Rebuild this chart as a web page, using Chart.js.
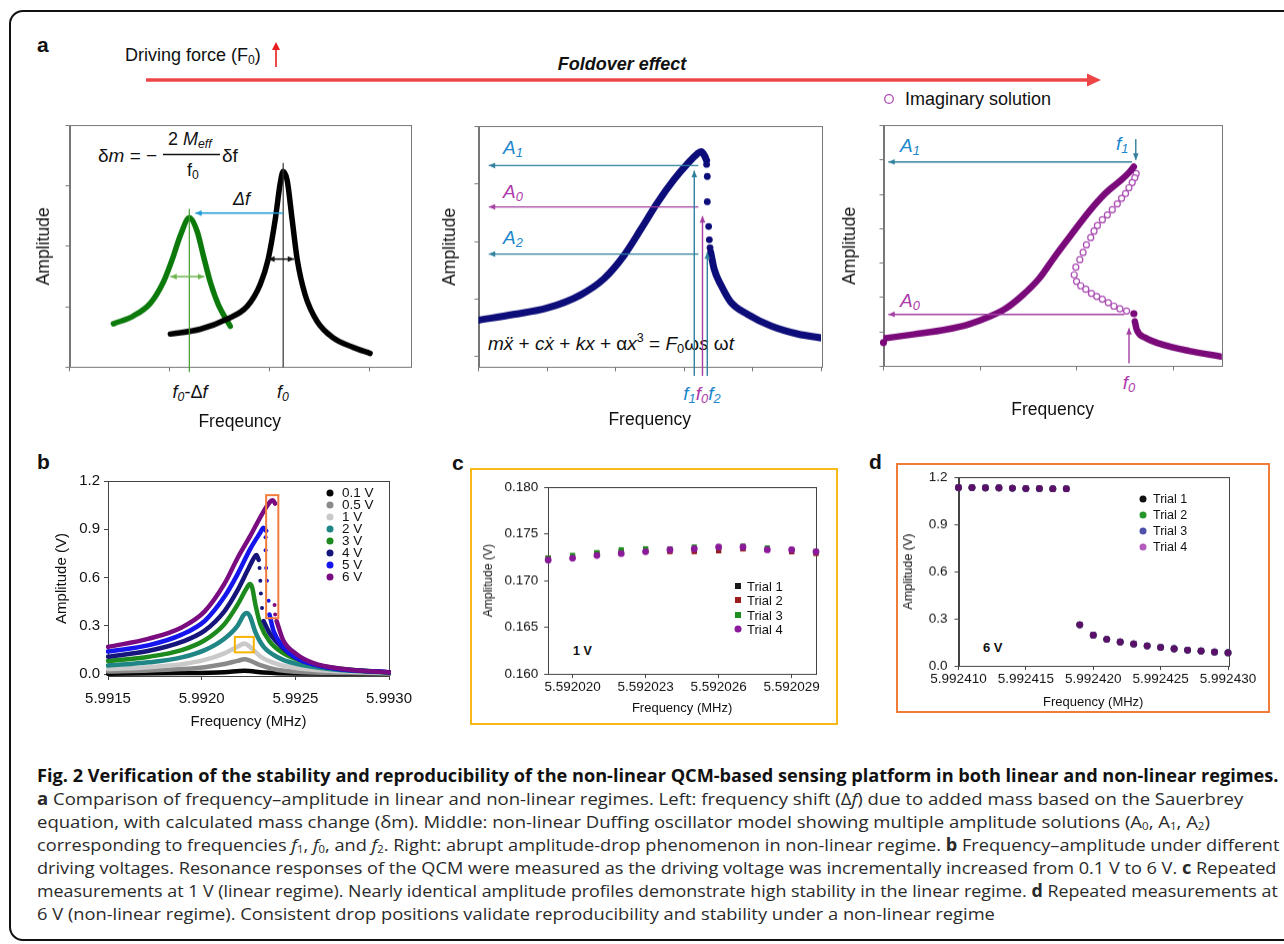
<!DOCTYPE html>
<html>
<head>
<meta charset="utf-8">
<title>Fig. 2 QCM foldover</title>
<script src="https://cdn.jsdelivr.net/npm/chart.js@4.4.1/dist/chart.umd.min.js"></script>
<style>
  html, body { margin: 0; padding: 0; background: #fff; }
  #page { position: relative; width: 1284px; height: 944px; overflow: hidden;
          font-family: "Liberation Sans", Arial, Helvetica, sans-serif; color: #111; }
  #frame { position: absolute; left: 9px; top: 10px; width: 1300px; height: 931px;
           border: 2px solid #111; border-radius: 14px; box-sizing: border-box; }
  #deco { position: absolute; left: 0; top: 0; }
  canvas { position: absolute; }
  .t { position: absolute; white-space: nowrap; line-height: 1; transform: translateY(-50%); }
  .t.c { transform: translate(-50%, -50%); }
  .t sub { font-size: 68%; vertical-align: -0.28em; line-height: 0; }
  .t sup { font-size: 66%; vertical-align: 0.6em; line-height: 0; }
  .pl { font-weight: bold; font-size: 21px; }
  .blue { color: #1d87cc; }
  .mag { color: #ad3aa9; }
  .lg { position: absolute; white-space: nowrap; line-height: 1; transform: translateY(-50%); }
  .mk { position: absolute; transform: translate(-50%, -50%); }
  .cap { position: absolute; left: 37px; white-space: nowrap; line-height: 1;
         font-family: "Open Sans", "Noto Sans", sans-serif; font-size: 17px; color: #2a2a2a;
         transform-origin: 0 50%; }
  .cap sub { font-size: 62%; vertical-align: -0.25em; line-height: 0; }
</style>
</head>
<body>
<div id="page">
  <div id="frame"></div>
  <svg id="deco" width="1284" height="944">
    <line x1="146" y1="80" x2="1090" y2="80" stroke="#ee4646" stroke-width="3.5"/>
    <polygon points="1087,73.5 1101,80 1087,86.5" fill="#ee4646"/>
    <line x1="276" y1="67" x2="276" y2="48" stroke="#e81e1e" stroke-width="1.6"/>
    <polygon points="272,50 276,42 280,50" fill="#e81e1e"/>
    <circle cx="889" cy="99" r="4.3" fill="none" stroke="#b04ab4" stroke-width="1.3"/>
    <line x1="163" y1="154.5" x2="220" y2="154.5" stroke="#111" stroke-width="1.6"/>
    <rect x="471" y="469" width="366" height="255" fill="none" stroke="#f6b917" stroke-width="2"/>
    <rect x="897" y="464" width="372" height="248" fill="none" stroke="#f07c3a" stroke-width="2"/>
  </svg>

  <!-- panel a, top -->
  <div class="t pl" style="left:37px;top:44px;">a</div>
  <div class="t" style="left:125px;top:55px;font-size:18px;">Driving force (F<sub>0</sub>)</div>
  <div class="t c" style="left:622px;top:64px;font-size:18px;font-weight:bold;font-style:italic;">Foldover effect</div>
  <div class="t" style="left:905px;top:99px;font-size:18px;">Imaginary solution</div>

  <!-- panel a, left -->
  <div class="t" style="left:98px;top:155px;font-size:19px;">δ<i>m</i> = −</div>
  <div class="t" style="left:168px;top:139px;font-size:18px;">2 <i>M</i><sub><i>eff</i></sub></div>
  <div class="t" style="left:187px;top:170px;font-size:18px;">f<sub>0</sub></div>
  <div class="t" style="left:222px;top:155px;font-size:19px;">δf</div>
  <div class="t" style="left:233px;top:199px;font-size:18px;font-style:italic;">Δf</div>
  <div class="t c" style="left:190px;top:392px;font-size:18px;"><i>f</i><sub><i>0</i></sub>-Δ<i>f</i></div>
  <div class="t c" style="left:283px;top:392px;font-size:18px;"><i>f</i><sub><i>0</i></sub></div>

  <!-- panel a, middle -->
  <div class="t blue" style="left:503px;top:147px;font-size:19px;font-style:italic;">A<sub>1</sub></div>
  <div class="t mag" style="left:503px;top:191px;font-size:19px;font-style:italic;">A<sub>0</sub></div>
  <div class="t blue" style="left:503px;top:237px;font-size:19px;font-style:italic;">A<sub>2</sub></div>
  <div class="t" style="left:488px;top:343px;font-size:19px;"><i>m</i><i>x&#776;</i> + <i>cx&#775;</i> + <i>kx</i> + α<i>x</i><sup>3</sup> = <i>F</i><sub>0</sub>ω<i>s</i> ω<i>t</i></div>
  <div class="t c" style="left:702px;top:393px;font-size:19px;font-style:italic;"><span class="blue">f<sub>1</sub></span><span class="mag">f<sub>0</sub></span><span class="blue">f<sub>2</sub></span></div>

  <!-- panel a, right -->
  <div class="t blue" style="left:900px;top:145px;font-size:19px;font-style:italic;">A<sub>1</sub></div>
  <div class="t blue" style="left:1116px;top:143px;font-size:19px;font-style:italic;">f<sub>1</sub></div>
  <div class="t mag" style="left:900px;top:300px;font-size:19px;font-style:italic;">A<sub>0</sub></div>
  <div class="t c mag" style="left:1129px;top:382px;font-size:19px;font-style:italic;">f<sub>0</sub></div>

  <!-- panels b, c, d -->
  <div class="t pl" style="left:37px;top:461px;">b</div>
  <div class="t pl" style="left:452px;top:462px;">c</div>
  <div class="t pl" style="left:869px;top:461px;">d</div>
  <div class="t" style="left:573px;top:651px;font-size:12.5px;font-weight:bold;">1 V</div>
  <div class="t" style="left:983px;top:647px;font-size:13px;font-weight:bold;">6 V</div>

  <!-- caption -->
  <div class="cap" data-w="1241" style="top:775px;font-weight:bold;color:#111;">Fig. 2 Verification of the stability and reproducibility of the non-linear QCM-based sensing platform in both linear and non-linear regimes.</div>
  <div class="cap" data-w="1206" style="top:798px;"><b>a</b> Comparison of frequency–amplitude in linear and non-linear regimes. Left: frequency shift (Δ<i>f</i>) due to added mass based on the Sauerbrey</div>
  <div class="cap" data-w="1173" style="top:821px;">equation, with calculated mass change (δm). Middle: non-linear Duffing oscillator model showing multiple amplitude solutions (A<sub>0</sub>, A<sub>1</sub>, A<sub>2</sub>)</div>
  <div class="cap" data-w="1242" style="top:844px;">corresponding to frequencies <i>f</i><sub>1</sub>, <i>f</i><sub>0</sub>, and <i>f</i><sub>2</sub>. Right: abrupt amplitude-drop phenomenon in non-linear regime. <b>b</b> Frequency–amplitude under different</div>
  <div class="cap" data-w="1240" style="top:867px;">driving voltages. Resonance responses of the QCM were measured as the driving voltage was incrementally increased from 0.1 V to 6 V. <b>c</b> Repeated</div>
  <div class="cap" data-w="1241" style="top:890px;">measurements at 1 V (linear regime). Nearly identical amplitude profiles demonstrate high stability in the linear regime. <b>d</b> Repeated measurements at</div>
  <div class="cap" data-w="958" style="top:913px;">6 V (non-linear regime). Consistent drop positions validate reproducibility and stability under a non-linear regime</div>
</div>

<script>
/* global Chart */

// ---------- panel a: schematic curves (arbitrary units) ----------
var leftBlackX = [1.01, 1.31, 1.58, 1.78, 1.91, 1.99, 2.06, 2.11, 2.14, 2.18, 2.23, 2.28, 2.36, 2.48, 2.64, 2.84, 3.01];
var leftBlackY = [0.55, 0.63, 0.80, 1.01, 1.37, 1.79, 2.44, 3.04, 3.24, 3.09, 2.44, 1.79, 1.20, 0.76, 0.49, 0.33, 0.23];
var leftGreenX = [0.44, 0.64, 0.81, 0.94, 1.03, 1.11, 1.20, 1.28, 1.34, 1.41, 1.49, 1.61];
var leftGreenY = [0.72, 0.85, 1.06, 1.41, 1.79, 2.18, 2.47, 2.24, 1.85, 1.41, 1.04, 0.68];

var midUpX = [0, 0.51, 1.00, 1.49, 1.83, 2.12, 2.37, 2.61, 2.85, 3.05, 3.19, 3.25, 3.30, 3.33];
var midUpY = [0.63, 0.73, 0.84, 1.07, 1.35, 1.75, 2.21, 2.67, 3.07, 3.35, 3.52, 3.56, 3.49, 3.41];
var midJumpX = [3.33, 3.34, 3.34, 3.36, 3.37, 3.38];
var midJumpY = [3.34, 3.13, 2.69, 2.26, 2.03, 1.89];
var midLowX = [3.39, 3.44, 3.54, 3.68, 3.93, 4.27, 4.66, 5.01];
var midLowY = [1.81, 1.52, 1.24, 0.95, 0.73, 0.53, 0.39, 0.32];

var rightUpX = [0, 0.31, 0.65, 0.89, 1.10, 1.27, 1.44, 1.61, 1.78, 1.96, 2.13, 2.30, 2.44, 2.54, 2.59];
var rightUpY = [0.81, 0.93, 1.07, 1.23, 1.45, 1.69, 2.07, 2.55, 3.22, 3.89, 4.51, 5.04, 5.37, 5.63, 5.80];
var rightLowX = [2.60, 2.62, 2.71, 2.88, 3.16, 3.50];
var rightLowY = [1.31, 1.07, 0.83, 0.64, 0.45, 0.28];
var rightDotX = [0, 2.59];
var rightDotY = [0.69, 1.53];
var rightImagX = [2.614, 2.600, 2.573, 2.539, 2.504, 2.463, 2.419, 2.367, 2.316, 2.264, 2.213, 2.178, 2.144, 2.099,
                  2.065, 2.031, 1.990, 1.973, 1.997, 2.041, 2.093, 2.151, 2.206, 2.264, 2.326, 2.384, 2.446, 2.515];
var rightImagY = [5.60, 5.48, 5.34, 5.19, 5.02, 4.88, 4.72, 4.55, 4.40, 4.26, 4.09, 3.93, 3.74, 3.53,
                  3.31, 3.10, 2.88, 2.66, 2.47, 2.34, 2.24, 2.12, 2.03, 1.95, 1.85, 1.75, 1.67, 1.61];

// ---------- panel b: amplitude vs frequency (MHz) ----------
var bTickX = [5.9915, 5.9920, 5.9925, 5.9930];
var bTickXLabels = ['5.9915', '5.9920', '5.9925', '5.9930'];
var bTickY = [0, 0.3, 0.6, 0.9, 1.2];
var bTickYLabels = ['0.0', '0.3', '0.6', '0.9', '1.2'];
var bNames = ['0.1 V', '0.5 V', '1 V', '2 V', '3 V', '4 V', '5 V', '6 V'];
var bColors = ['#050505', '#8a8a8a', '#c9c9c9', '#1f8585', '#1c8a1c', '#15157c', '#1515ee', '#7b0b80'];

var b6UpX = [5.99150, 5.991719, 5.991893, 5.992016, 5.992121, 5.992191, 5.992260, 5.992330, 5.992365, 5.992379, 5.992392];
var b6UpY = [0.169, 0.22, 0.29, 0.39, 0.56, 0.72, 0.86, 1.01, 1.07, 1.08, 1.06];
var b6DropX = [5.992389, 5.992392];
var b6DropY = [0.43, 0.37];
var b6LowX = [5.992400, 5.992435, 5.992505, 5.992593, 5.992767, 5.993000];
var b6LowY = [0.33, 0.21, 0.125, 0.07, 0.03, 0.012];

var b5UpX = [5.99150, 5.991719, 5.991893, 5.992016, 5.992121, 5.992191, 5.992260, 5.992313, 5.992330, 5.992344];
var b5UpY = [0.14, 0.18, 0.245, 0.33, 0.48, 0.62, 0.78, 0.88, 0.91, 0.89];
var b5DropX = [5.992341, 5.992341, 5.992344, 5.992348, 5.992357];
var b5DropY = [0.85, 0.77, 0.66, 0.58, 0.455];
var b5LowX = [5.992362, 5.992383, 5.992435, 5.992505, 5.992680, 5.993000];
var b5LowY = [0.37, 0.27, 0.17, 0.10, 0.04, 0.012];

var b4UpX = [5.99150, 5.991719, 5.991893, 5.992016, 5.992121, 5.992191, 5.992243, 5.992278, 5.992292, 5.992304];
var b4UpY = [0.108, 0.145, 0.20, 0.27, 0.39, 0.52, 0.64, 0.72, 0.74, 0.71];
var b4DropX = [5.992309, 5.992313, 5.992316, 5.992322];
var b4DropY = [0.66, 0.58, 0.50, 0.41];
var b4LowX = [5.992330, 5.992365, 5.992435, 5.992505, 5.992680, 5.993000];
var b4LowY = [0.33, 0.25, 0.16, 0.10, 0.04, 0.01];

var b3X = [5.99150, 5.991719, 5.991893, 5.992016, 5.992121, 5.992191, 5.992243, 5.992257, 5.992269, 5.992287, 5.992313, 5.992365, 5.992435, 5.992540, 5.992680, 5.993000];
var b3Y = [0.082, 0.108, 0.149, 0.21, 0.31, 0.43, 0.54, 0.56, 0.54, 0.43, 0.31, 0.20, 0.13, 0.078, 0.043, 0.01];
var b2X = [5.99150, 5.991719, 5.991893, 5.992016, 5.992121, 5.992191, 5.992226, 5.992240, 5.992257, 5.992287, 5.992330, 5.992400, 5.992505, 5.992680, 5.993000];
var b2Y = [0.053, 0.073, 0.104, 0.149, 0.22, 0.30, 0.37, 0.38, 0.36, 0.26, 0.17, 0.108, 0.063, 0.031, 0.008];
var b1X = [5.99150, 5.991719, 5.991893, 5.992016, 5.992121, 5.992191, 5.992229, 5.992257, 5.992313, 5.992400, 5.992505, 5.992680, 5.993000];
var b1Y = [0.031, 0.043, 0.061, 0.088, 0.129, 0.17, 0.19, 0.17, 0.11, 0.063, 0.037, 0.02, 0.006];
var b05Y = [0.016, 0.022, 0.031, 0.043, 0.063, 0.082, 0.092, 0.084, 0.055, 0.027, 0.014, 0.008, 0.004];
var b01X = [5.99150, 5.991893, 5.992121, 5.992229, 5.992330, 5.992505, 5.993000];
var b01Y = [0.002, 0.006, 0.012, 0.02, 0.01, 0.004, 0.002];

// ---------- panel c: repeated runs at 1 V ----------
var cTickX = [5.592020, 5.592023, 5.592026, 5.592029];
var cTickXLabels = ['5.592020', '5.592023', '5.592026', '5.592029'];
var cTickY = [0.160, 0.165, 0.170, 0.175, 0.180];
var cTickYLabels = ['0.160', '0.165', '0.170', '0.175', '0.180'];
var cFreq = [5.592019, 5.592020, 5.592021, 5.592022, 5.592023, 5.592024, 5.592025, 5.592026, 5.592027, 5.592028, 5.592029, 5.592030];
var cTrial1 = [0.1724, 0.1726, 0.1729, 0.1731, 0.1734, 0.1732, 0.1732, 0.1732, 0.1734, 0.1733, 0.1731, 0.1730];
var cTrial2 = [0.1724, 0.1726, 0.1729, 0.1731, 0.1733, 0.1731, 0.1731, 0.1732, 0.1734, 0.1733, 0.1731, 0.1729];
var cTrial3 = [0.1724, 0.1727, 0.1730, 0.1733, 0.1734, 0.1734, 0.1736, 0.1736, 0.1737, 0.1735, 0.1733, 0.1731];
var cTrial4 = [0.1722, 0.1724, 0.1727, 0.1729, 0.1731, 0.1733, 0.1734, 0.1736, 0.1736, 0.1733, 0.1733, 0.1731];
var trialNames = ['Trial 1', 'Trial 2', 'Trial 3', 'Trial 4'];

// ---------- panel d: repeated runs at 6 V ----------
var dTickX = [5.992410, 5.992415, 5.992420, 5.992425, 5.992430];
var dTickXLabels = ['5.992410', '5.992415', '5.992420', '5.992425', '5.992430'];
var dTickY = [0, 0.3, 0.6, 0.9, 1.2];
var dTickYLabels = ['0.0', '0.3', '0.6', '0.9', '1.2'];
var dFreq = [5.992410, 5.992411, 5.992412, 5.992413, 5.992414, 5.992415, 5.992416, 5.992417, 5.992418, 5.992419, 5.992420,
             5.992421, 5.992422, 5.992423, 5.992424, 5.992425, 5.992426, 5.992427, 5.992428, 5.992429, 5.992430];
var dTrial1 = [1.134, 1.134, 1.132, 1.132, 1.130, 1.128, 1.128, 1.126, 1.126, 0.262, 0.196, 0.169, 0.153, 0.140, 0.128, 0.118, 0.109, 0.101, 0.095, 0.089, 0.084];
var dTrial2 = [1.134, 1.134, 1.132, 1.132, 1.130, 1.128, 1.128, 1.126, 1.127, 0.262, 0.196, 0.169, 0.153, 0.140, 0.128, 0.118, 0.109, 0.101, 0.095, 0.089, 0.084];
var dTrial3 = [1.134, 1.134, 1.132, 1.132, 1.130, 1.128, 1.128, 1.126, 1.126, 0.262, 0.196, 0.169, 0.153, 0.140, 0.128, 0.118, 0.109, 0.101, 0.095, 0.089, 0.084];
var dTrial4 = [1.134, 1.134, 1.132, 1.132, 1.130, 1.128, 1.128, 1.126, 1.126, 0.262, 0.196, 0.169, 0.153, 0.140, 0.128, 0.118, 0.109, 0.101, 0.095, 0.089, 0.084];

// ---------- helpers ----------
var page = document.getElementById('page');
var FONT = 'Liberation Sans';

function pts(xs, ys) {
    return xs.map(function (x, i) { return { x: x, y: ys[i] }; });
}

function curve(xs, ys, color, width) {
    return { data: pts(xs, ys), borderColor: color, backgroundColor: color, borderWidth: width,
             pointRadius: 0, showLine: true, fill: false, cubicInterpolationMode: 'monotone',
             borderCapStyle: 'round', borderJoinStyle: 'round' };
}

function dots(xs, ys, color, radius, style) {
    return { data: pts(xs, ys), showLine: false, pointRadius: radius, pointStyle: style || 'circle',
             pointBackgroundColor: color, pointBorderColor: color, pointBorderWidth: 0,
             borderColor: color, backgroundColor: color, clip: false };
}

function head(ctx, x1, y1, x2, y2, s) {
    var a = Math.atan2(y2 - y1, x2 - x1);
    ctx.beginPath();
    ctx.moveTo(x2, y2);
    ctx.lineTo(x2 - s * Math.cos(a - 0.42), y2 - s * Math.sin(a - 0.42));
    ctx.lineTo(x2 - s * Math.cos(a + 0.42), y2 - s * Math.sin(a + 0.42));
    ctx.closePath();
    ctx.fill();
}

// plot box all round
function framePlugin(color) {
    return {
        id: 'frame',
        beforeDatasetsDraw: function (chart) {
            var a = chart.chartArea, ctx = chart.ctx;
            ctx.save();
            ctx.strokeStyle = color;
            ctx.lineWidth = 1;
            ctx.strokeRect(Math.round(a.left) + 0.5, Math.round(a.top) + 0.5,
                           Math.round(a.right - a.left), Math.round(a.bottom - a.top));
            ctx.restore();
        }
    };
}

// arrows and boxes given in data units
function notesPlugin(notes) {
    return {
        id: 'notes',
        afterDatasetsDraw: function (chart) {
            var sx = chart.scales.x, sy = chart.scales.y, ctx = chart.ctx;
            (notes.arrows || []).forEach(function (n) {
                var x1 = sx.getPixelForValue(n.x1), y1 = sy.getPixelForValue(n.y1);
                var x2 = sx.getPixelForValue(n.x2), y2 = sy.getPixelForValue(n.y2);
                ctx.save();
                ctx.strokeStyle = n.color; ctx.fillStyle = n.color; ctx.lineWidth = n.w || 1.4;
                ctx.beginPath(); ctx.moveTo(x1, y1); ctx.lineTo(x2, y2); ctx.stroke();
                if (n.head === 'end' || n.head === 'both') head(ctx, x1, y1, x2, y2, 7);
                if (n.head === 'both') head(ctx, x2, y2, x1, y1, 7);
                ctx.restore();
            });
            (notes.rects || []).forEach(function (n) {
                var x1 = sx.getPixelForValue(n.x1), y1 = sy.getPixelForValue(n.y1);
                var x2 = sx.getPixelForValue(n.x2), y2 = sy.getPixelForValue(n.y2);
                ctx.save();
                ctx.strokeStyle = n.color; ctx.lineWidth = 2;
                ctx.strokeRect(x1, y1, x2 - x1, y2 - y1);
                ctx.restore();
            });
        }
    };
}

function axis(s) {
    return {
        type: 'linear', min: s.min, max: s.max,
        afterBuildTicks: function (sc) { sc.ticks = s.ticks.map(function (v) { return { value: v }; }); },
        afterFit: function (sc) { if (sc.isHorizontal()) { sc.height = s.size; } else { sc.width = s.size; } },
        grid: { drawOnChartArea: false, drawTicks: true, tickLength: 4, color: s.color, lineWidth: 1 },
        border: { display: true, color: s.color, width: 1 },
        ticks: { autoSkip: false, maxRotation: 0, minRotation: 0, padding: s.pad || 0, color: '#111',
                 font: { family: FONT, size: s.tickSize || 14 },
                 callback: function (v, i) { return s.labels ? s.labels[i] : ''; } },
        title: { display: true, text: s.title, padding: 0, color: '#111',
                 font: { family: FONT, size: s.titleSize } }
    };
}

// box = plot area in page pixels; axis sizes fix where labels sit
function makeChart(box, xs, ys, datasets, notes, frameColor) {
    var left = box.l - ys.size, top = box.t - box.padT;
    var w = box.r + box.padR - left, h = box.b + xs.size - top;
    var cv = document.createElement('canvas');
    cv.width = w; cv.height = h;
    cv.style.left = left + 'px'; cv.style.top = top + 'px';
    cv.style.width = w + 'px'; cv.style.height = h + 'px';
    page.appendChild(cv);
    return new Chart(cv, {
        type: 'line',
        data: { datasets: datasets },
        options: {
            responsive: false, animation: false, events: [], devicePixelRatio: 1,
            layout: { padding: { left: 0, top: box.padT, right: box.padR, bottom: 0 } },
            plugins: { legend: { display: false }, tooltip: { enabled: false } },
            scales: { x: axis(xs), y: axis(ys) }
        },
        plugins: [framePlugin(frameColor), notesPlugin(notes || {})]
    });
}

function legend(names, colors, shapes, mx, tx, y0, step, size) {
    names.forEach(function (name, i) {
        var y = y0 + i * step;
        var m = document.createElement('div');
        m.className = 'mk';
        var sq = shapes[i] === 'rect';
        m.style.cssText = 'left:' + mx + 'px;top:' + y + 'px;width:' + (sq ? 6 : 7) + 'px;height:' + (sq ? 6 : 7) +
            'px;background:' + colors[i] + ';border-radius:' + (sq ? '0' : '50%') + ';';
        page.appendChild(m);
        var t = document.createElement('div');
        t.className = 'lg';
        t.style.cssText = 'left:' + tx + 'px;top:' + y + 'px;font-size:' + size + 'px;';
        t.textContent = name;
        page.appendChild(t);
    });
}

var TEAL = '#2f7f9d', MAG = '#a23ea2';

// ---------- panel a: left (linear shift) ----------
makeChart({ l: 69, t: 121, r: 410, b: 367, padT: 4, padR: 4 },
    { min: 0, max: 3.41, ticks: [0, 1, 2, 3], size: 65.5, title: 'Freqeuncy', titleSize: 17.5, color: '#777' },
    { min: 0, max: 4, ticks: [0, 1, 2, 3, 4], size: 35.5, title: 'Amplitude', titleSize: 17.5, color: '#777' },
    [curve(leftBlackX, leftBlackY, '#000', 5.5), curve(leftGreenX, leftGreenY, '#0b7a0b', 5.5)],
    { arrows: [
        { x1: 2.14, y1: 0, x2: 2.14, y2: 3.38, color: '#333', w: 1.2 },
        { x1: 1.20, y1: -0.08, x2: 1.20, y2: 2.62, color: '#3f9f2f', w: 1.2 },
        { x1: 2.14, y1: 2.55, x2: 1.26, y2: 2.55, color: '#1c9ad6', w: 1.6, head: 'end' },
        { x1: 1.99, y1: 1.79, x2: 2.25, y2: 1.79, color: '#111', w: 1.5, head: 'both' },
        { x1: 1.01, y1: 1.50, x2: 1.35, y2: 1.50, color: '#6cb44c', w: 1.5, head: 'both' }
    ] }, '#777');

// ---------- panel a: middle (Duffing) ----------
makeChart({ l: 478, t: 122, r: 821, b: 367, padT: 4, padR: 4 },
    { min: 0, max: 5, ticks: [0, 1, 2, 3, 4, 5], size: 63.5, title: 'Frequency', titleSize: 17.5, color: '#777' },
    { min: -0.19, max: 4, ticks: [0, 1, 2, 3, 4], size: 38.5, title: 'Amplitude', titleSize: 17.5, color: '#777' },
    [curve(midUpX, midUpY, '#0d0d7a', 7), dots(midJumpX, midJumpY, '#0d0d7a', 3.4), curve(midLowX, midLowY, '#0d0d7a', 7)],
    { arrows: [
        { x1: 3.21, y1: 3.32, x2: 0.15, y2: 3.32, color: TEAL, head: 'end' },
        { x1: 3.21, y1: 2.60, x2: 0.15, y2: 2.60, color: MAG, head: 'end' },
        { x1: 3.21, y1: 1.78, x2: 0.15, y2: 1.78, color: TEAL, head: 'end' },
        { x1: 3.15, y1: -0.34, x2: 3.15, y2: 3.23, color: TEAL, head: 'end' },
        { x1: 3.27, y1: -0.34, x2: 3.27, y2: 2.44, color: MAG, head: 'end' },
        { x1: 3.34, y1: -0.34, x2: 3.34, y2: 1.81, color: TEAL, head: 'end' }
    ] }, '#777');

// ---------- panel a: right (amplitude drop) ----------
var imag = dots(rightImagX, rightImagY, '#fff', 3);
imag.pointBorderColor = '#a848b0';
imag.pointBorderWidth = 1.2;
makeChart({ l: 883, t: 121, r: 1223, b: 366, padT: 4, padR: 4 },
    { min: 0, max: 3.5, ticks: [0, 1, 2, 3], size: 54.5, title: 'Frequency', titleSize: 17.5, color: '#777' },
    { min: 0, max: 7, ticks: [0, 1, 2, 3, 4, 5, 6, 7], size: 43.5, title: 'Amplitude', titleSize: 17.5, color: '#777' },
    [dots(rightDotX, rightDotY, '#7a0a7a', 3.6), curve(rightUpX, rightUpY, '#7a0a7a', 6.5),
     curve(rightLowX, rightLowY, '#7a0a7a', 6.5), imag],
    { arrows: [
        { x1: 2.57, y1: 5.94, x2: 0.05, y2: 5.94, color: TEAL, head: 'end' },
        { x1: 2.61, y1: 6.6, x2: 2.61, y2: 6.0, color: TEAL, head: 'end' },
        { x1: 2.49, y1: 1.51, x2: 0.05, y2: 1.51, color: MAG, head: 'end' },
        { x1: 2.54, y1: 0.09, x2: 2.54, y2: 1.11, color: MAG, head: 'end' }
    ] }, '#777');

// ---------- panel b ----------
var bSets = [
    curve(b6UpX, b6UpY, bColors[7], 4.5), dots(b6DropX, b6DropY, bColors[7], 2), curve(b6LowX, b6LowY, bColors[7], 4.5),
    curve(b5UpX, b5UpY, bColors[6], 4.5), dots(b5DropX, b5DropY, bColors[6], 2), curve(b5LowX, b5LowY, bColors[6], 4.5),
    curve(b4UpX, b4UpY, bColors[5], 4.5), dots(b4DropX, b4DropY, bColors[5], 2), curve(b4LowX, b4LowY, bColors[5], 4.5),
    curve(b3X, b3Y, bColors[4], 4.5),
    curve(b2X, b2Y, bColors[3], 4.5),
    curve(b1X, b1Y, bColors[2], 4.5),
    curve(b1X, b05Y, bColors[1], 4.5),
    curve(b01X, b01Y, bColors[0], 4.5)
];
bSets.forEach(function (d) { d.clip = 2; });
makeChart({ l: 108, t: 478, r: 394, b: 676, padT: 10, padR: 28 },
    { min: 5.9915, max: 5.9930, ticks: bTickX, labels: bTickXLabels, size: 55, pad: 10, tickSize: 15,
      title: 'Frequency (MHz)', titleSize: 15, color: '#444' },
    { min: -0.012, max: 1.2, ticks: bTickY, labels: bTickYLabels, size: 55, pad: 4, tickSize: 15,
      title: 'Amplitude (V)', titleSize: 15, color: '#444' },
    bSets,
    { rects: [
        { x1: 5.992344, y1: 1.112, x2: 5.992409, y2: 0.347, color: '#f27c3c' },
        { x1: 5.992177, y1: 0.231, x2: 5.992278, y2: 0.135, color: '#f6b400' }
    ] }, '#444');
legend(bNames, bColors, [], 330, 342, 493, 12, 13.5);

// ---------- panel c ----------
var cColors = ['#1a1a1a', '#9a1c1c', '#1e8e1e', '#8a1a9a'];
makeChart({ l: 548, t: 483, r: 816, b: 674, padT: 10, padR: 10 },
    { min: 5.592019, max: 5.592030, ticks: cTickX, labels: cTickXLabels, size: 41.8, pad: 1, tickSize: 13.5,
      title: 'Frequency (MHz)', titleSize: 13, color: '#444' },
    { min: 0.160, max: 0.180, ticks: cTickY, labels: cTickYLabels, size: 67.2, pad: 6, tickSize: 13.5,
      title: 'Amplitude (V)', titleSize: 12, color: '#444' },
    [dots(cFreq, cTrial4, cColors[3], 3.4), dots(cFreq, cTrial3, cColors[2], 3.6, 'rect'),
     dots(cFreq, cTrial2, cColors[1], 3.6, 'rect'), dots(cFreq, cTrial1, cColors[0], 3.6, 'rect')],
    null, '#444');
legend(trialNames, cColors, ['rect', 'rect', 'rect', 'circle'], 738, 747, 586, 14.3, 13);

// ---------- panel d ----------
var dColors = ['#111111', '#26962a', '#5050a8', '#b45cbc'];
makeChart({ l: 958, t: 472, r: 1228, b: 666, padT: 10, padR: 32 },
    { min: 5.992410, max: 5.992430, ticks: dTickX, labels: dTickXLabels, size: 43.9, pad: 1, tickSize: 13.5,
      title: 'Frequency (MHz)', titleSize: 13, color: '#444' },
    { min: 0, max: 1.2, ticks: dTickY, labels: dTickYLabels, size: 57.5, pad: 7, tickSize: 13.5,
      title: 'Amplitude (V)', titleSize: 12.5, color: '#444' },
    [dots(dFreq, dTrial4, '#5a0f69', 3.4), dots(dFreq, dTrial3, dColors[2], 3.4),
     dots(dFreq, dTrial2, dColors[1], 3.4), dots(dFreq, dTrial1, dColors[0], 3.4)],
    null, '#444');
legend(trialNames, dColors, [], 1143, 1153, 499, 16, 12.5);

// ---------- caption: squeeze each line to the printed width ----------
function fitCaption() {
    document.querySelectorAll('.cap').forEach(function (el) {
        var target = parseFloat(el.getAttribute('data-w'));
        var s = target / el.offsetWidth;
        el.style.transform = 'translateY(-50%) scaleX(' + s + ')';
    });
}
fitCaption();
</script>
</body>
</html>
